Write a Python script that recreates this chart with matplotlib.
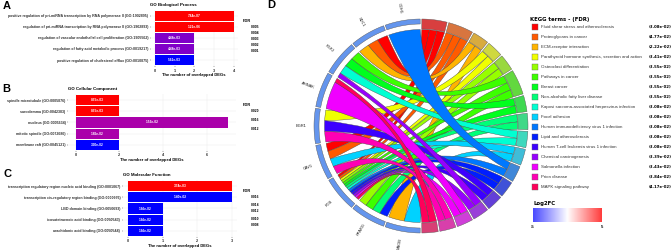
"""Three GO enrichment bar panels and a KEGG chord diagram."""

import numpy as np
from matplotlib import pyplot as plt
from matplotlib.colors import LinearSegmentedColormap, to_rgb
from matplotlib.patches import PathPatch, Rectangle
from matplotlib.path import Path

W, H = 672, 250

# ── GO panels ─────────────────────────────────────────────────────────────

bp_terms = ["positive regulation of pri-miRNA transcription by RNA polymerase II (GO:1902895)",
            "regulation of pri-miRNA transcription by RNA polymerase II (GO:1902893)",
            "regulation of vascular endothelial cell proliferation (GO:1905562)",
            "regulation of fatty acid metabolic process (GO:0019217)",
            "positive regulation of cholesterol efflux (GO:0010875)"]
bp_counts = [4, 4, 2, 2, 2]
bp_fdr = ["7.84e-07", "1.21e-06", "4.48e-03", "4.48e-03", "5.61e-03"]
bp_colors = ["#ff0000", "#ff0000", "#8000c8", "#8000c8", "#0000ff"]
bp_ticks = [0, 1, 2, 3, 4]
bp_legend = ["0.005", "0.004", "0.003", "0.002", "0.001"]

cc_terms = ["spindle microtubule (GO:0005876)", "sarcolemma (GO:0042383)", "nucleus (GO:0005634)",
            "mitotic spindle (GO:0072686)", "membrane raft (GO:0045121)"]
cc_counts = [2, 2, 7, 2, 2]
cc_fdr = ["8.55e-03", "8.55e-03", "1.59e-02", "1.86e-02", "3.30e-02"]
cc_colors = ["#ff0000", "#ff0000", "#aa00aa", "#aa00aa", "#0000ff"]
cc_ticks = [0, 2, 4, 6]
cc_legend = ["0.020", "0.016", "0.012"]

mf_terms = ["transcription regulatory region nucleic acid binding (GO:0001067)",
            "transcription cis-regulatory region binding (GO:0000976)",
            "LBD domain binding (GO:0050693)",
            "icosatetraenoic acid binding (GO:0050543)",
            "arachidonic acid binding (GO:0050544)"]
mf_counts = [3, 3, 1, 1, 1]
mf_fdr = ["3.74e-03", "1.40e-02", "1.66e-02", "1.66e-02", "1.66e-02"]
mf_colors = ["#ff0000", "#0000ff", "#0000ff", "#0000ff", "#0000ff"]
mf_ticks = [0, 1, 2, 3]
mf_legend = ["0.016", "0.014", "0.012", "0.010", "0.008"]

# ── KEGG chord ────────────────────────────────────────────────────────────

kegg_terms = ["Fluid shear stress and atherosclerosis", "Proteoglycans in cancer",
              "ECM-receptor interaction", "Parathyroid hormone synthesis, secretion and action",
              "Osteoclast differentiation", "Pathways in cancer", "Breast cancer",
              "Non-alcoholic fatty liver disease", "Kaposi sarcoma-associated herpesvirus infection",
              "Focal adhesion", "Human immunodeficiency virus 1 infection",
              "Lipid and atherosclerosis", "Human T-cell leukemia virus 1 infection",
              "Chemical carcinogenesis", "Salmonella infection", "Prion disease",
              "MAPK signaling pathway"]
kegg_fdr = ["3.08e-02", "4.77e-02", "2.22e-02", "3.41e-02", "3.55e-02", "3.55e-02", "3.55e-02",
            "3.55e-02", "3.08e-02", "3.08e-02", "3.08e-02", "3.08e-02", "3.08e-02", "3.39e-02",
            "3.43e-02", "3.84e-02", "4.17e-02"]
kegg_colors = ["#ff0000", "#ff5a00", "#ffb400", "#f0ff00", "#96ff00", "#3cff00", "#00ff1e",
               "#00ff78", "#00ffd2", "#00d2ff", "#0078ff", "#001eff", "#3c00ff", "#9600ff",
               "#f000ff", "#ff00b4", "#ff005a"]
genes = ["CDH1", "SDC1", "FGF2", "AHNAK", "EGR1", "CAV1", "FOS", "PPARG", "MAOB"]
# term indices linked to each gene, in order going away from the top
gene_links = [[10], [0, 1, 2], [5, 6, 8, 13], [16, 14], [3, 12, 15], [0, 1, 9, 15],
              [0, 1, 3, 4, 5, 6, 7, 8, 10, 11, 12, 13, 14, 16], [4, 5, 7, 11], [2, 9]]
gene_widths = [[1], [1, 1, 1], [3, 3, 3, 1.5], [1, 6.5], [1, 1, 1], [1, 1, 1, 1],
               [1] * 14, [1, 1, 1, 1], [1, 1]]


def px_axes(fig, left, top, right, bottom):
    """Axes placed by reference-image pixel box."""
    return fig.add_axes([left / W, 1 - bottom / H, (right - left) / W, (bottom - top) / H])


def bar_panel(fig, box, xlim, terms, counts, fdr, colors, ticks, title, title_x):
    ax = px_axes(fig, *box)
    y = np.arange(len(terms))
    ax.barh(y, counts, height=0.92, color=colors, zorder=2)
    for yi, c, s in zip(y, counts, fdr):
        ax.text(c / 2, yi, s, color="white", fontsize=2.3, fontweight="bold",
                ha="center", va="center", zorder=3)
    ax.set_xlim(*xlim)
    ax.set_ylim(len(terms) - 0.45, -0.55)
    ax.set_yticks(y, terms, fontsize=2.58, fontweight="bold", color="#333333")
    ax.set_xticks(ticks, [str(t) for t in ticks], fontsize=2.8, fontweight="bold", color="#333333")
    ax.tick_params(length=1, width=0.3, pad=0.8, color="#333333")
    ax.grid(color="#ededed", lw=0.35, zorder=0)
    ax.set_axisbelow(True)
    for s in ax.spines.values():
        s.set_visible(False)
    ax.set_xlabel("The number of overlapped DEGs", fontsize=3, fontweight="bold", labelpad=0.3)
    fig.text(title_x / W, 1 - box[1] / H + 2.8 / H, title, fontsize=3.2, fontweight="bold", va="bottom")


def polar(angle_deg, r):
    """Angle clockwise from the top, y up."""
    a = np.radians(angle_deg)
    return np.column_stack([r * np.sin(a), r * np.cos(a)])


def sector(ax, a0, a1, r0, r1, color):
    t = np.linspace(a0, a1, 30)
    pts = np.vstack([polar(t, r1), polar(t[::-1], r0), polar(t[:1], r1)])
    ax.fill(pts[:, 0], pts[:, 1], facecolor=color, edgecolor="#555555", lw=0.3, zorder=3)


def ribbon(ax, g0, g1, t0, t1, r, color, pull=0.08):
    garc = polar(np.linspace(g0, g1, 12), r)
    tarc = polar(np.linspace(t1, t0, 12), r)
    # control points just off the centre, so a ribbon does not pinch to nothing
    c0 = pull * (garc[-1] + tarc[0])
    c1 = pull * (tarc[-1] + garc[0])
    verts = list(garc) + [c0, tarc[0]] + list(tarc[1:]) + [c1, garc[0]]
    codes = ([Path.MOVETO] + [Path.LINETO] * 11 + [Path.CURVE3, Path.CURVE3]
             + [Path.LINETO] * 11 + [Path.CURVE3, Path.CURVE3])
    ax.add_patch(PathPatch(Path(verts, codes), facecolor=color, edgecolor="#444444", lw=0.28, zorder=2))


def chord(fig):
    ax = px_axes(fig, 296, 1, 546, 251)
    ax.set_xlim(-125, 125)
    ax.set_ylim(-125, 125)
    ax.axis("off")
    gap = 0.9
    r_chord, r_gene, r_outer, r_term = 96.5, 102, 107, 97

    # term arcs are sized by how many genes they carry
    n_links = np.zeros(len(kegg_terms), dtype=int)
    for links in gene_links:
        for t in links:
            n_links[t] += 1
    edges = np.concatenate([[0], np.cumsum(n_links) / n_links.sum() * 180])

    # gene side slots
    gene_slots = {}
    for i, (links, widths) in enumerate(zip(gene_links, gene_widths)):
        a0, a1 = -i * 20 - gap / 2, -(i + 1) * 20 + gap / 2
        cuts = a0 + (a1 - a0) * np.concatenate([[0], np.cumsum(widths)]) / sum(widths)
        for j, t in enumerate(links):
            gene_slots[(i, t)] = (cuts[j], cuts[j + 1])

    # term side slots, ordered by gene so the fans stay nested
    term_slots = {}
    for t in range(len(kegg_terms)):
        linked = [i for i, links in enumerate(gene_links) if t in links]
        a0, a1 = edges[t] + gap / 2, edges[t + 1] - gap / 2
        cuts = np.linspace(a0, a1, len(linked) + 1)
        for j, i in enumerate(linked):
            term_slots[(i, t)] = (cuts[j], cuts[j + 1])

    for t in range(len(kegg_terms)):
        for i in range(len(genes)):
            if (i, t) in gene_slots:
                ribbon(ax, *gene_slots[(i, t)], *term_slots[(i, t)], r_chord, kegg_colors[t])
        base = np.array(to_rgb(kegg_colors[t]))
        sector(ax, edges[t] + gap / 2, edges[t + 1] - gap / 2, r_term, r_outer, 0.6 * base + 0.4 * 0.62)

    for i, g in enumerate(genes):
        sector(ax, -i * 20 - gap / 2, -(i + 1) * 20 + gap / 2, r_gene, r_outer, "#6495ed")
        mid = -i * 20 - 10
        x, y = polar(mid, 120)[0]
        ax.text(x, y, g, fontsize=2.9, ha="center", va="center", rotation=-90 - mid,
                rotation_mode="anchor", color="#222222", clip_on=False)


def overlay(fig):
    ov = fig.add_axes([0, 0, 1, 1], zorder=5)
    ov.set_xlim(0, W)
    ov.set_ylim(H, 0)
    ov.axis("off")
    ov.patch.set_alpha(0)

    for s, x, y in zip("ABC", [3, 2, 3], [6, 89, 174]):
        ov.text(x, y, s, fontsize=8, fontweight="bold", va="center")
    ov.text(267, 5, "D", fontsize=8, fontweight="bold", va="center")

    # FDR legends of the bar panels
    for top, labels, step in [(21, bp_legend, 6), (105, cc_legend, 8.5), (191, mf_legend, 7)]:
        ov.text(243, top, "FDR", fontsize=2.9, fontweight="bold", va="center")
        for k, s in enumerate(labels):
            ov.text(251, top + 6.5 + k * step, s, fontsize=2.4, fontweight="bold", va="center")

    # KEGG legend
    ov.text(530, 19, "KEGG terms - (FDR)", fontsize=3.9, fontweight="bold", va="center",
            family="DejaVu Sans")
    for k, (name, fdr, col) in enumerate(zip(kegg_terms, kegg_fdr, kegg_colors)):
        y = 27.3 + k * 10
        ov.add_patch(Rectangle((531.7, y - 2.9), 5.8, 5.8, facecolor=col, edgecolor="#666666", lw=0.3))
        ov.text(540.7, y, name, fontsize=3.2, va="center", color="#333333")
        ov.text(648.5, y, f"({fdr})", fontsize=2.75, fontweight="bold", va="center", family="DejaVu Sans")

    ov.text(533, 203, "Log2FC", fontsize=3.9, fontweight="bold", va="center", family="DejaVu Sans")
    cmap = LinearSegmentedColormap.from_list("fc", ["#4a4aff", "#ffffff", "#ff3c3c"])
    ov.imshow(np.linspace(0, 1, 128)[None, :], cmap=cmap, extent=(532.7, 601.7, 222.3, 208.3),
              aspect="auto", zorder=2)
    ov.set_xlim(0, W)
    ov.set_ylim(H, 0)
    ov.text(533, 226.5, "-5", fontsize=3, fontweight="bold", ha="center", va="center")
    ov.text(602, 226.5, "5", fontsize=3, fontweight="bold", ha="center", va="center")


def main() -> None:
    plt.rcParams["font.family"] = ["Liberation Sans", "DejaVu Sans"]
    fig = plt.figure(figsize=(W / 100, H / 100), dpi=100, facecolor="white")

    bar_panel(fig, (151, 9.6, 237.5, 66.2), (-0.2, 4.2), bp_terms, bp_counts, bp_fdr, bp_colors,
              bp_ticks, "GO Biological Process", 150)
    bar_panel(fig, (68, 94, 236, 151), (-0.35, 7.35), cc_terms, cc_counts, cc_fdr, cc_colors,
              cc_ticks, "GO Cellular Component", 68)
    bar_panel(fig, (122.8, 180, 236.9, 237), (-0.15, 3.15), mf_terms, mf_counts, mf_fdr, mf_colors,
              mf_ticks, "GO Molecular Function", 123)
    chord(fig)
    overlay(fig)

    fig.savefig("out.png", dpi=100)


if __name__ == "__main__":
    main()
